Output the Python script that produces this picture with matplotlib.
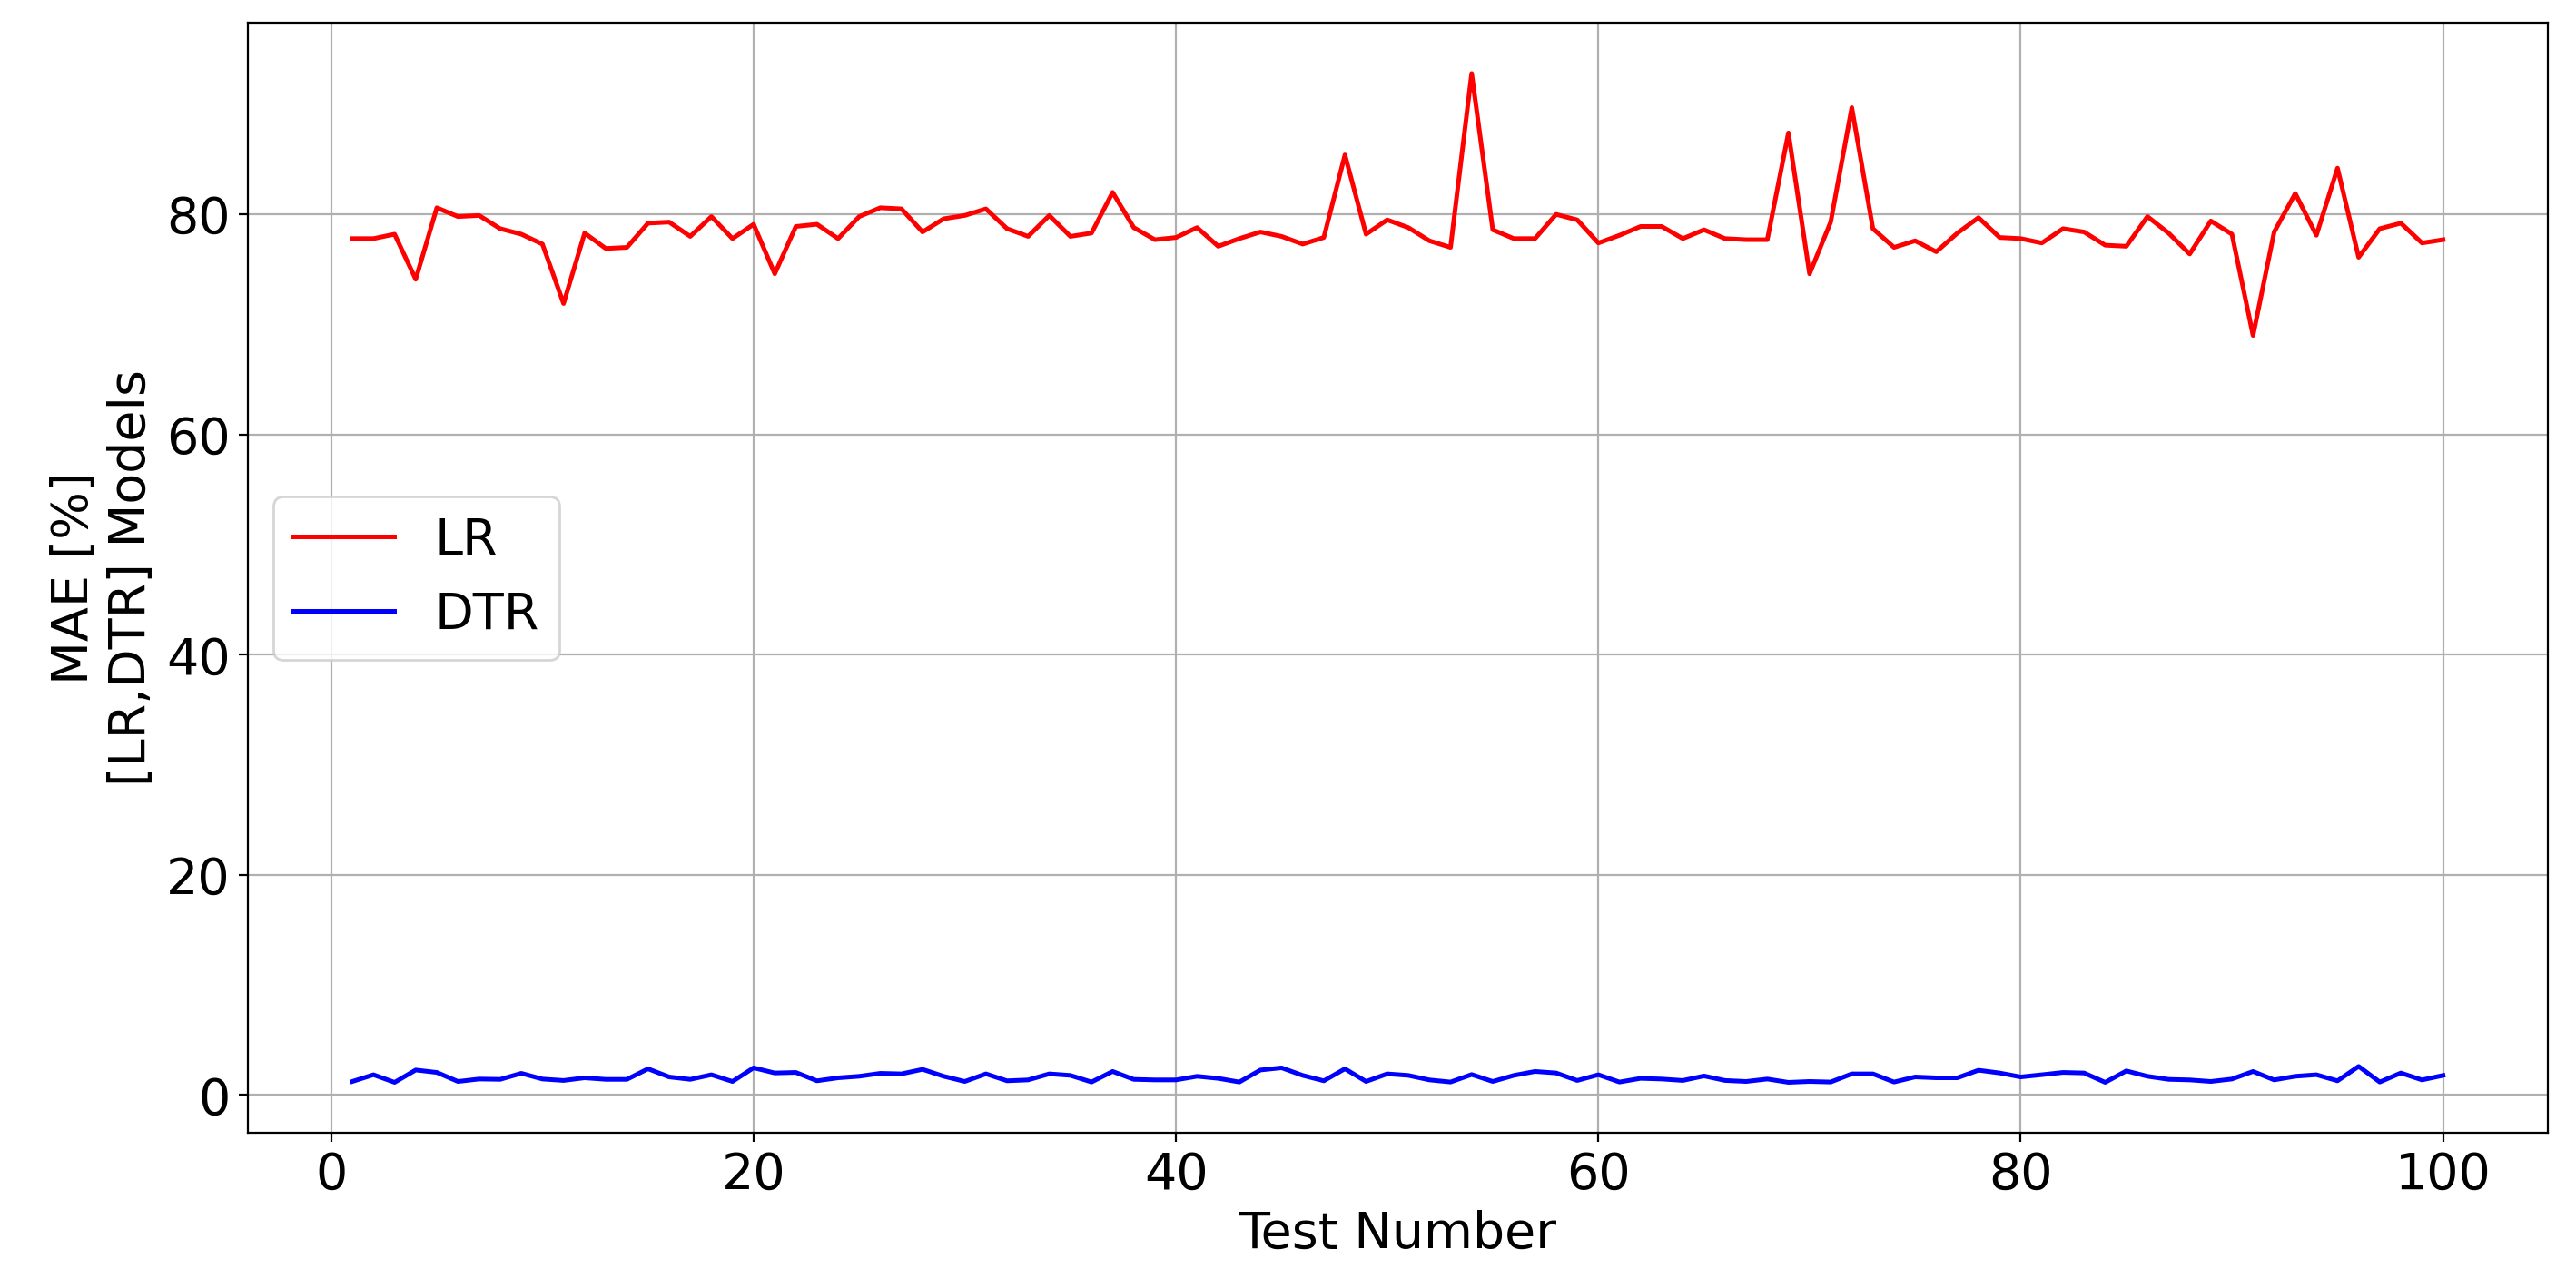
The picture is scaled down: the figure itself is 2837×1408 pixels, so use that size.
import matplotlib
matplotlib.use("Agg")
import matplotlib.pyplot as plt
import numpy as np

# test numbers 1..100
test_number = np.arange(1, 101)

lr_mae = [
    77.8, 77.8, 78.2, 74.1, 80.6, 79.8, 79.9, 78.7, 78.2, 77.3,
    71.9, 78.3, 76.9, 77.0, 79.2, 79.3, 78.0, 79.8, 77.8, 79.1,
    74.6, 78.9, 79.1, 77.8, 79.8, 80.6, 80.5, 78.4, 79.6, 79.9,
    80.5, 78.7, 78.0, 79.9, 78.0, 78.3, 82.0, 78.8, 77.7, 77.9,
    78.8, 77.1, 77.8, 78.4, 78.0, 77.3, 77.9, 85.4, 78.2, 79.5,
    78.8, 77.6, 77.0, 92.8, 78.6, 77.8, 77.8, 80.0, 79.5, 77.4,
    78.1, 78.9, 78.9, 77.8, 78.6, 77.8, 77.7, 77.7, 87.4, 74.6,
    79.3, 89.7, 78.7, 77.0, 77.6, 76.6, 78.3, 79.7, 77.9, 77.8,
    77.4, 78.7, 78.4, 77.2, 77.1, 79.8, 78.3, 76.4, 79.4, 78.2,
    69.0, 78.4, 81.9, 78.1, 84.2, 76.1, 78.7, 79.2, 77.4, 77.7,
]

dtr_mae = [
    1.23, 1.84, 1.15, 2.27, 2.05, 1.23, 1.45, 1.42, 1.97, 1.45,
    1.32, 1.56, 1.42, 1.42, 2.38, 1.64, 1.42, 1.84, 1.23, 2.47,
    2.00, 2.05, 1.29, 1.56, 1.70, 1.97, 1.92, 2.33, 1.70, 1.23,
    1.92, 1.29, 1.37, 1.92, 1.78, 1.18, 2.14, 1.42, 1.37, 1.37,
    1.70, 1.51, 1.18, 2.27, 2.47, 1.78, 1.29, 2.38, 1.23, 1.92,
    1.78, 1.37, 1.18, 1.86, 1.23, 1.78, 2.14, 2.00, 1.32, 1.84,
    1.18, 1.51, 1.45, 1.32, 1.73, 1.32, 1.23, 1.45, 1.15, 1.23,
    1.18, 1.92, 1.92, 1.18, 1.64, 1.56, 1.56, 2.25, 2.00, 1.64,
    1.84, 2.05, 2.00, 1.15, 2.19, 1.70, 1.42, 1.37, 1.23, 1.45,
    2.14, 1.37, 1.70, 1.84, 1.29, 2.60, 1.18, 2.00, 1.37, 1.78,
]

plt.rcParams['font.size'] = 20

fig, ax = plt.subplots(figsize=(14.185, 7.04), dpi=200)
fig.subplots_adjust(left=0.0962, right=0.989, top=0.982, bottom=0.1136)

ax.plot(test_number, lr_mae, color='red', lw=1.8, label='LR')
ax.plot(test_number, dtr_mae, color='blue', lw=1.8, label='DTR')

ax.set_xlabel('Test Number')
ax.set_ylabel('MAE [%]\n[LR,DTR] Models')
ax.grid(True)
ax.legend(loc='center left')

fig.savefig('out.png', dpi=200)
